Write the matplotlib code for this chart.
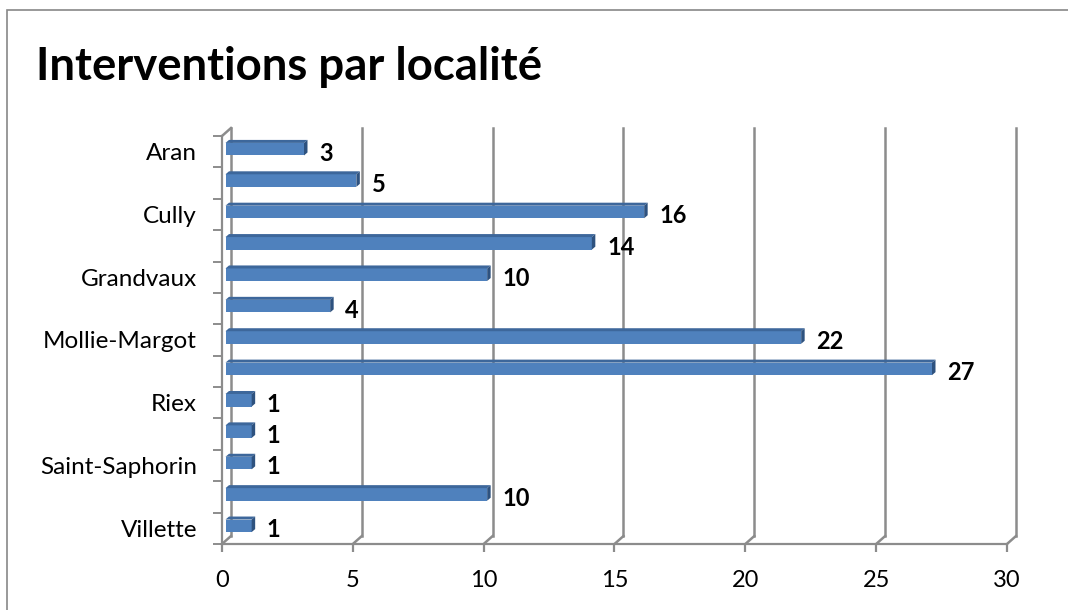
import matplotlib
matplotlib.use("Agg")
import matplotlib.pyplot as plt
from matplotlib.patches import Polygon, Rectangle
from matplotlib.lines import Line2D
from matplotlib.transforms import IdentityTransform

# Données (de haut en bas) - une étiquette sur deux n'est pas affichée
etiquettes = ["Aran", "", "Cully", "", "Grandvaux", "", "Mollie-Margot", "",
              "Riex", "", "Saint-Saphorin", "", "Villette"]
interventions = [3, 5, 16, 14, 10, 4, 22, 27, 1, 1, 1, 10, 1]
graduations = [0, 5, 10, 15, 20, 25, 30]

plt.rcParams['font.family'] = ['Lato', 'DejaVu Sans']

GRIS = "#8c8c8c"
BLEU = "#4f81bd"
BLEU_HAUT = "#3d679b"
BLEU_COTE = "#2e527f"

fig = plt.figure(figsize=(10.68, 6.10), dpi=100)

# cadre du graphique
fig.add_artist(Rectangle((6.5 / 1068, -0.1), 1.2, 1 - 9.5 / 610 + 0.1,
                         transform=fig.transFigure, fill=False,
                         edgecolor="#888888", linewidth=1.2))

fig.text(36 / 1068, 1 - 80 / 610, "Interventions par localité", fontsize=32.8,
         fontweight="bold", ha="left", va="baseline")

ax = fig.add_axes([222 / 1068, 1 - 544 / 610, 785 / 1068, 408 / 610])
n = len(interventions)
ax.set_xlim(0, 30)
ax.set_ylim(n - 0.5, -0.5)
ax.set_facecolor("none")
for s in ["top", "right"]:
    ax.spines[s].set_visible(False)
for s in ["left", "bottom"]:
    ax.spines[s].set_color(GRIS)
    ax.spines[s].set_linewidth(1.6)

ax.set_xticks(graduations)
ax.set_xticklabels([str(g) for g in graduations])
ax.set_yticks(range(n))
ax.set_yticklabels(etiquettes)
ax.set_yticks([k - 0.5 for k in range(n + 1)], minor=True)
ax.tick_params(axis="y", which="major", length=0, pad=18, labelsize=17.5)
ax.tick_params(axis="y", which="minor", length=6.5, width=1.4, color=GRIS)
ax.tick_params(axis="x", length=6, width=1.6, color=GRIS, pad=13, labelsize=17)

# profondeur 3D en pixels
PX, PY = 9, 8


def ecran(x, y, dx=0, dy=0):
    px, py = ax.transData.transform((x, y))
    return (px + dx, py + dy)


def ligne(p1, p2, **kw):
    ax.add_line(Line2D([p1[0], p2[0]], [p1[1], p2[1]], transform=IdentityTransform(),
                       color=GRIS, linewidth=1.8, clip_on=False, zorder=1, **kw))


# murs : lignes de grille arrière et diagonales du sol
bas, haut = n - 0.5, -0.5
for g in graduations:
    ligne(ecran(g, bas), ecran(g, bas, PX, PY))
    ligne(ecran(g, bas, PX, PY), ecran(g, haut, PX, PY))
ligne(ecran(0, haut), ecran(0, haut, PX, PY))

# barres 3D
h = 0.40
OX, OY = 3.5, 2.5
DX, DY = 3.5, 3
for i, v in enumerate(interventions):
    a = ecran(0, i + h / 2, OX, OY)
    b = ecran(v, i + h / 2, OX, OY)
    c = ecran(v, i - h / 2, OX, OY)
    d = ecran(0, i - h / 2, OX, OY)
    face = Polygon([a, b, c, d], closed=True, transform=IdentityTransform(),
                   facecolor=BLEU, edgecolor="none", zorder=3, clip_on=False)
    dessus = Polygon([d, c, (c[0] + DX, c[1] + DY), (d[0] + DX, d[1] + DY)],
                     closed=True, transform=IdentityTransform(),
                     facecolor=BLEU_HAUT, edgecolor="none", zorder=3, clip_on=False)
    cote = Polygon([b, c, (c[0] + DX, c[1] + DY), (b[0] + DX, b[1] + DY)],
                   closed=True, transform=IdentityTransform(),
                   facecolor=BLEU_COTE, edgecolor="none", zorder=3, clip_on=False)
    ax.add_patch(face)
    ax.add_patch(dessus)
    ax.add_patch(cote)
    ax.annotate(str(v), (v, i), xytext=(13.5, -1), textcoords="offset points",
                va="center", ha="left", fontsize=17, fontweight="bold")

fig.savefig("out.png", dpi=100)
